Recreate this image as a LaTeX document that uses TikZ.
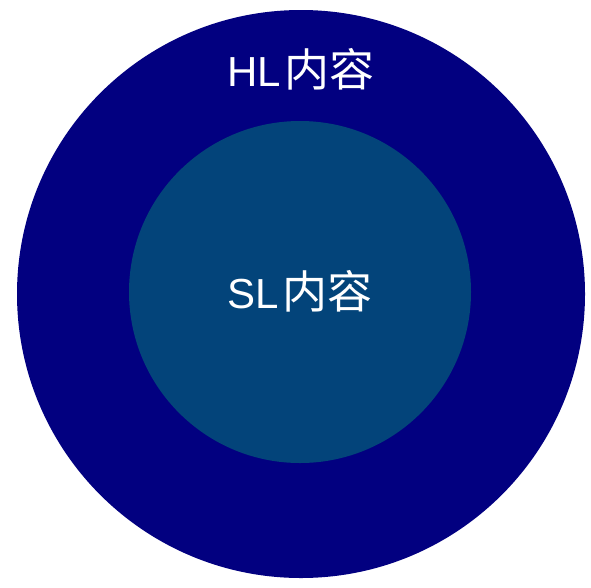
\documentclass[tikz,border=0pt]{standalone}
\usepackage{fontspec}
\setmainfont{Liberation Sans}
\newfontfamily\cjk{Noto Sans CJK SC}
\definecolor{outerblue}{HTML}{020080}
\definecolor{innerblue}{HTML}{03447A}
\begin{document}
\begin{tikzpicture}[x=1pt,y=-1pt,
  lbl/.style={text=white,font=\fontsize{42}{46}\selectfont,inner sep=0pt}]
\useasboundingbox (0,0) rectangle (591,587);
\fill[outerblue] (301,294) circle[radius=284];
\fill[innerblue] (300,292) circle[radius=171];
\node[lbl] (hl) at (301,69) {HL\hspace{3pt}{\cjk\fontsize{45}{48}\selectfont 内容}};
\node[lbl] (sl) at (300,291) {SL\hspace{3pt}{\cjk\fontsize{45}{48}\selectfont 内容}};
\end{tikzpicture}
\end{document}
